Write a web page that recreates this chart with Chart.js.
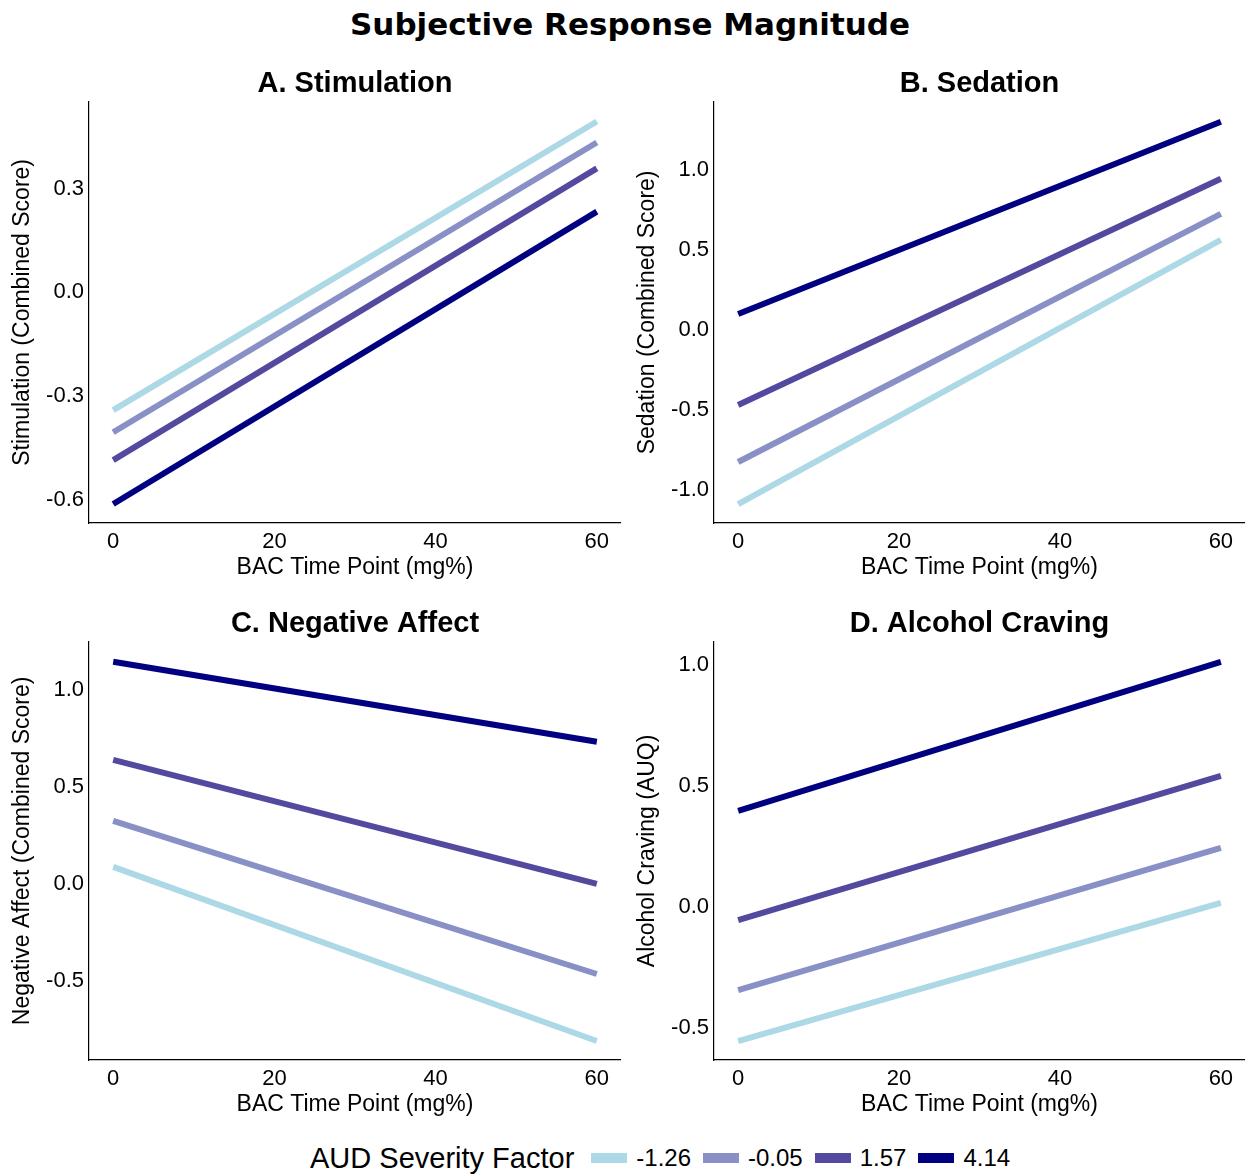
<!DOCTYPE html>
<html>
<head>
<meta charset="utf-8">
<script src="https://cdn.jsdelivr.net/npm/chart.js@4.4.0/dist/chart.umd.min.js"></script>
<style>
    body { margin: 0; width: 1249px; height: 1175px; background: #fff; position: relative; overflow: hidden;
           font-family: "Liberation Sans", Arial, sans-serif; color: #000; }
    #mainTitle { position: absolute; left: 0; top: 4px; width: 1260px; text-align: center;
                 font-family: "DejaVu Sans", Verdana, sans-serif; font-weight: bold; font-size: 31px; line-height: 40px; }
    canvas { position: absolute; }
    #legend { position: absolute; left: 310px; top: 1140px; height: 36px; display: flex; align-items: center; }
    #legend .ltitle { font-size: 29px; margin-right: 17px; }
    #legend .key { width: 36px; height: 10px; margin-right: 9px; }
    #legend .lab { font-size: 24px; margin-right: 12px; }
</style>
</head>
<body>
<div id="mainTitle">Subjective Response Magnitude</div>
<canvas id="chartA" width="621" height="525" style="left:0;top:60px"></canvas>
<canvas id="chartB" width="620" height="525" style="left:625px;top:60px"></canvas>
<canvas id="chartC" width="621" height="522" style="left:0;top:600px"></canvas>
<canvas id="chartD" width="620" height="522" style="left:625px;top:600px"></canvas>
<div id="legend"></div>

<script>
// BAC time points and AUD severity levels
const timePoints = [0, 60];
const severityLevels = ['-1.26', '-0.05', '1.57', '4.14'];
const lineColors = ['#add8e6', '#8890c6', '#53499f', '#000080'];
const xTicks = [0, 20, 40, 60];

// predicted values at 0 and 60 mg%, one row per severity level
const stimulation = [[-0.341, 0.495], [-0.405, 0.434], [-0.486, 0.359], [-0.613, 0.234]];
const sedation = [[-1.088, 0.563], [-0.825, 0.725], [-0.469, 0.944], [0.100, 1.300]];
const negAffect = [[0.088, -0.809], [0.325, -0.464], [0.639, 0.000], [1.144, 0.732]];
const craving = [[-0.554, 0.017], [-0.343, 0.244], [-0.054, 0.541], [0.397, 1.012]];

const stimTicks = [-0.6, -0.3, 0.0, 0.3];
const sedTicks = [-1.0, -0.5, 0.0, 0.5, 1.0];
const negTicks = [-0.5, 0.0, 0.5, 1.0];
const cravTicks = [-0.5, 0.0, 0.5, 1.0];

const fam = '"Liberation Sans", Arial, sans-serif';

function makePanel(id, title, yTitle, values, yTicks, yMin, yMax) {
    let datasets = [];
    for (let i in severityLevels) {
        datasets.push({
            label: severityLevels[i],
            data: timePoints.map((t, j) => ({ x: t, y: values[i][j] })),
            borderColor: lineColors[i],
            borderWidth: 6,
            borderCapStyle: 'butt',
            pointRadius: 0,
            fill: false
        });
    }

    new Chart(document.getElementById(id), {
        type: 'line',
        data: { datasets: datasets },
        options: {
            responsive: false,
            animation: false,
            layout: { padding: 0 },
            plugins: {
                legend: { display: false },
                tooltip: { enabled: false },
                title: {
                    display: true,
                    text: title,
                    fullSize: false,
                    color: '#000',
                    font: { family: fam, size: 29, weight: 'bold' },
                    padding: { top: 7, bottom: 0 }
                }
            },
            scales: {
                x: {
                    type: 'linear',
                    min: -3,
                    max: 63,
                    border: { display: true, color: '#000', width: 1.2 },
                    grid: { display: false, drawTicks: false },
                    afterBuildTicks: axis => { axis.ticks = xTicks.map(v => ({ value: v })); },
                    afterFit: axis => { axis.height = 62; },
                    ticks: { color: '#000', font: { family: fam, size: 22 }, padding: 6, maxRotation: 0 },
                    title: { display: true, text: 'BAC Time Point (mg%)', color: '#000',
                             font: { family: fam, size: 23 }, padding: { top: 0, bottom: 4 } }
                },
                y: {
                    type: 'linear',
                    min: yMin,
                    max: yMax,
                    border: { display: true, color: '#000', width: 1.2 },
                    grid: { display: false, drawTicks: false },
                    afterBuildTicks: axis => { axis.ticks = yTicks.map(v => ({ value: v })); },
                    afterFit: axis => { axis.width = 89; },
                    ticks: { color: '#000', font: { family: fam, size: 22 }, padding: 5,
                             callback: v => v.toFixed(1) },
                    title: { display: true, text: yTitle, color: '#000',
                             font: { family: fam, size: 23 }, padding: { top: 9, bottom: 0 } }
                }
            }
        }
    });
}

makePanel('chartA', 'A. Stimulation', 'Stimulation (Combined Score)', stimulation, stimTicks, -0.668, 0.552);
makePanel('chartB', 'B. Sedation', 'Sedation (Combined Score)', sedation, sedTicks, -1.206, 1.425);
makePanel('chartC', 'C. Negative Affect', 'Negative Affect (Combined Score)', negAffect, negTicks, -0.907, 1.247);
makePanel('chartD', 'D. Alcohol Craving', 'Alcohol Craving (AUQ)', craving, cravTicks, -0.632, 1.095);

// legend
let legendHtml = '<span class="ltitle">AUD Severity Factor</span>';
for (let i in severityLevels) {
    legendHtml += '<span class="key" style="background:' + lineColors[i] + '"></span>' +
                  '<span class="lab">' + severityLevels[i] + '</span>';
}
document.getElementById('legend').innerHTML = legendHtml;
</script>
</body>
</html>
